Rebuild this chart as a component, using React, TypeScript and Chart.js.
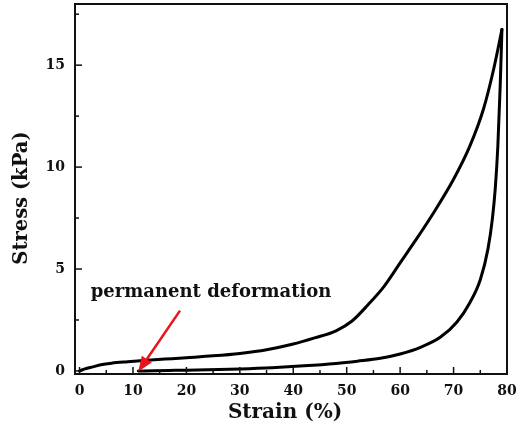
import React, { useEffect, useRef } from "react";
import { Chart, registerables } from "chart.js";

Chart.register(...registerables);

// Loading branch (strain %, stress kPa)
const loadingStrain = [0, 1, 2.5, 4, 6, 9, 12, 16, 20, 25, 30, 35, 40, 44, 48, 51, 54, 57, 60, 63, 66, 70, 73, 75.6, 77.5, 79.05];
const loadingStress = [0, 0.1, 0.2, 0.3, 0.38, 0.45, 0.51, 0.58, 0.65, 0.74, 0.86, 1.04, 1.32, 1.62, 1.97, 2.45, 3.25, 4.15, 5.3, 6.45, 7.65, 9.4, 11.0, 12.85, 14.8, 16.75];

// Unloading branch
const unloadingStrain = [79.05, 78.73, 78.28, 77.82, 77.28, 76.45, 75.03, 73.1, 70.6, 67.5, 63.8, 60, 56.3, 52, 48, 42, 36, 30, 24, 18, 14, 11];
const unloadingStress = [16.75, 14.0, 11.0, 9.0, 7.5, 6.0, 4.5, 3.37, 2.39, 1.65, 1.16, 0.83, 0.62, 0.48, 0.37, 0.25, 0.16, 0.1, 0.06, 0.03, 0.01, 0];

// Axes
const xTicks = [0, 10, 20, 30, 40, 50, 60, 70, 80];
const xMinorTicks = [5, 15, 25, 35, 45, 55, 65, 75];
const yTicks = [0, 5, 10, 15];
const yMinorTicks = [2.5, 7.5, 12.5, 17.5];
const xRange = [-0.85, 80];
const yRange = [-0.15, 18];
const xTitle = "Strain (%)";
const yTitle = "Stress (kPa)";

// Annotation (data coordinates)
const annotationText = "permanent deformation";
const annotationTextAt = [2.1, 3.63];
const arrowFrom = [18.8, 2.96];
const arrowTo = [11, -0.03];

const FONT = '"DejaVu Serif", serif';
const INK = "#111";

const toPoints = (xs: number[], ys: number[]) => xs.map((x, i) => ({ x, y: ys[i] }));

const framePlugin = {
  id: "frameTicks",
  afterDraw(chart: any) {
    const { ctx, chartArea, scales } = chart;
    const { left, right, top, bottom } = chartArea;
    const x = scales.x;
    const y = scales.y;
    ctx.save();
    ctx.strokeStyle = INK;
    ctx.lineWidth = 1.5;
    const seg = (x1: number, y1: number, x2: number, y2: number) => {
      ctx.beginPath();
      ctx.moveTo(x1, y1);
      ctx.lineTo(x2, y2);
      ctx.stroke();
    };
    xTicks.forEach((v) => { const p = x.getPixelForValue(v); seg(p, bottom, p, bottom - 7); });
    xMinorTicks.forEach((v) => { const p = x.getPixelForValue(v); seg(p, bottom, p, bottom - 4); });
    yTicks.forEach((v) => { const p = y.getPixelForValue(v); seg(left, p, left + 7, p); });
    yMinorTicks.forEach((v) => { const p = y.getPixelForValue(v); seg(left, p, left + 4, p); });
    ctx.lineWidth = 2;
    ctx.strokeRect(left, top, right - left, bottom - top);

    // axis titles
    ctx.fillStyle = INK;
    ctx.textAlign = "center";
    ctx.textBaseline = "middle";
    ctx.font = `bold 20px ${FONT}`;
    ctx.fillText(xTitle, (left + right) / 2 - 6, bottom + 39);
    ctx.translate(22, (top + bottom) / 2 + 9);
    ctx.rotate(-Math.PI / 2);
    ctx.font = `bold 19.5px ${FONT}`;
    ctx.fillText(yTitle, 0, 0);
    ctx.restore();
  },
};

const annotationPlugin = {
  id: "annot",
  afterDatasetsDraw(chart: any) {
    const { ctx, scales } = chart;
    const x = scales.x;
    const y = scales.y;
    ctx.save();
    ctx.fillStyle = INK;
    ctx.font = `bold 18px ${FONT}`;
    ctx.textBaseline = "alphabetic";
    ctx.textAlign = "left";
    ctx.fillText(annotationText, x.getPixelForValue(annotationTextAt[0]), y.getPixelForValue(annotationTextAt[1]));

    const x1 = x.getPixelForValue(arrowFrom[0]);
    const y1 = y.getPixelForValue(arrowFrom[1]);
    const x2 = x.getPixelForValue(arrowTo[0]);
    const y2 = y.getPixelForValue(arrowTo[1]);
    const ang = Math.atan2(y2 - y1, x2 - x1);
    const headLen = 15;
    const headHalf = 6;
    const bx = x2 - headLen * Math.cos(ang);
    const by = y2 - headLen * Math.sin(ang);
    ctx.strokeStyle = "#e8141b";
    ctx.fillStyle = "#e8141b";
    ctx.lineWidth = 2.5;
    ctx.beginPath();
    ctx.moveTo(x1, y1);
    ctx.lineTo(bx, by);
    ctx.stroke();
    ctx.beginPath();
    ctx.moveTo(x2, y2);
    ctx.lineTo(bx + headHalf * Math.sin(ang), by - headHalf * Math.cos(ang));
    ctx.lineTo(bx - headHalf * Math.sin(ang), by + headHalf * Math.cos(ang));
    ctx.closePath();
    ctx.fill();
    ctx.restore();
  },
};

export default function App() {
  const ref = useRef<HTMLCanvasElement | null>(null);
  useEffect(() => {
    if (!ref.current) return;
    const lineStyle = {
      showLine: true,
      pointRadius: 0,
      borderColor: "#000",
      borderWidth: 3,
      cubicInterpolationMode: "monotone" as const,
      borderCapStyle: "round" as const,
      borderJoinStyle: "round" as const,
      fill: false,
    };
    const chart = new Chart(ref.current, {
      type: "scatter",
      data: {
        datasets: [
          { label: "loading", data: toPoints(loadingStrain, loadingStress), ...lineStyle },
          { label: "unloading", data: toPoints(unloadingStrain, unloadingStress), ...lineStyle },
        ],
      },
      options: {
        animation: false,
        responsive: false,
        layout: { padding: { top: 4, right: 10, left: 0, bottom: 0 } },
        plugins: { legend: { display: false }, tooltip: { enabled: false } },
        scales: {
          x: {
            type: "linear",
            min: xRange[0],
            max: xRange[1],
            afterBuildTicks: (s: any) => { s.ticks = xTicks.map((v) => ({ value: v })); },
            afterFit: (s: any) => { s.height = 55; s.paddingLeft = 0; s.paddingRight = 0; },
            grid: { display: false, drawTicks: false },
            border: { display: false },
            ticks: { padding: 9, color: INK, font: { family: FONT, weight: "bold", size: 14 }, maxRotation: 0 },
            title: { display: false, text: xTitle },
          },
          y: {
            type: "linear",
            min: yRange[0],
            max: yRange[1],
            afterBuildTicks: (s: any) => { s.ticks = yTicks.map((v) => ({ value: v })); },
            afterFit: (s: any) => { s.width = 75; s.paddingTop = 0; s.paddingBottom = 0; },
            grid: { display: false, drawTicks: false },
            border: { display: false },
            ticks: { padding: 10, color: INK, font: { family: FONT, weight: "bold", size: 14 } },
            title: { display: false, text: yTitle },
          },
        },
      },
      plugins: [framePlugin, annotationPlugin],
    });
    return () => chart.destroy();
  }, []);
  return (
    <div style={{ position: "absolute", left: 0, top: 0, width: 517, height: 429, background: "#fff" }}>
      <canvas ref={ref} width={517} height={429} style={{ display: "block" }} />
    </div>
  );
}
